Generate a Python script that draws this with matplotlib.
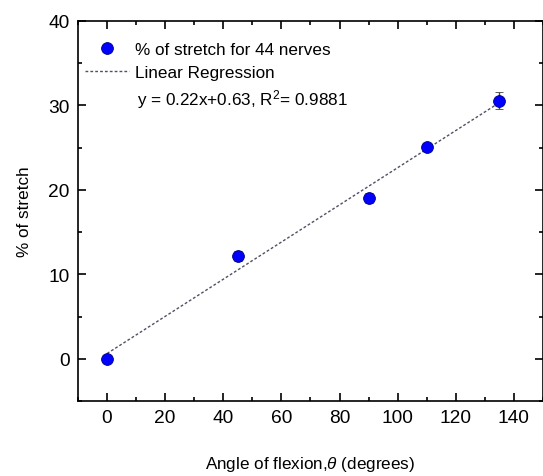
import numpy as np
import matplotlib
matplotlib.use("Agg")
from matplotlib import pyplot as plt
from matplotlib.lines import Line2D
from matplotlib.ticker import MultipleLocator

# data
angles = [0, 45, 90, 110, 135]
stretch = [0.0, 12.15, 19.0, 25.1, 30.55]
stretch_err = [0.0, 0.6, 0.6, 0.5, 1.0]
slope, intercept = 0.22, 0.63
fit_label = "y = 0.22x+0.63, R$^2$= 0.9881"

plt.rcParams.update({"font.family": ["Liberation Sans", "DejaVu Sans"],
                     "mathtext.fontset": "custom",
                     "mathtext.rm": "Liberation Sans",
                     "mathtext.it": "Liberation Sans:italic"})

fig = plt.figure(figsize=(5.43, 4.77), dpi=100)
ax = fig.add_axes([0.1436, 0.157, 0.8564, 0.797])

marker_style = dict(color="#0000ff", mec="#000080", mew=0.6, ms=8.5)

fit_x = np.array([angles[0], angles[-1]])
fit_y = slope * fit_x + intercept
fit_line, = ax.plot(fit_x, fit_y, linestyle=(0, (2.0, 1.5)), color="#505064",
                    lw=1.0, zorder=2)
ax.errorbar(angles, stretch, yerr=stretch_err, fmt="o", ecolor="#444444",
            elinewidth=1.0, capsize=3, capthick=1.0, zorder=3, **marker_style)

ax.set_xlim(-10, 150)
ax.set_ylim(-5, 40)
ax.xaxis.set_major_locator(MultipleLocator(20))
ax.xaxis.set_minor_locator(MultipleLocator(10))
ax.yaxis.set_major_locator(MultipleLocator(10))
ax.yaxis.set_minor_locator(MultipleLocator(5))
ax.tick_params(which="both", direction="in", top=True, right=True, width=1.2)
ax.tick_params(which="major", length=6, labelsize=13.8, pad=6)
ax.tick_params(which="minor", length=3)
for s in ax.spines.values():
    s.set_linewidth(1.2)

ax.set_xlabel(r"Angle of flexion,$\mathit{\theta}$ (degrees)", fontsize=12.3, labelpad=20)
ax.set_ylabel("% of stretch", fontsize=12.3, labelpad=12)

# legend: plain dot (no error bar) + dashed fit line
dot = Line2D([], [], marker="o", ls="none", **marker_style)
ax.legend([dot, fit_line], ["% of stretch for 44 nerves", "Linear Regression"],
          loc="upper left", frameon=False, fontsize=12.3,
          bbox_to_anchor=(-0.018, 0.985), handlelength=2.6,
          handletextpad=0.3, labelspacing=0.45)
ax.text(0.127, 0.795, fit_label, transform=ax.transAxes, fontsize=12.3, va="center")

fig.savefig("out.png", dpi=100)
